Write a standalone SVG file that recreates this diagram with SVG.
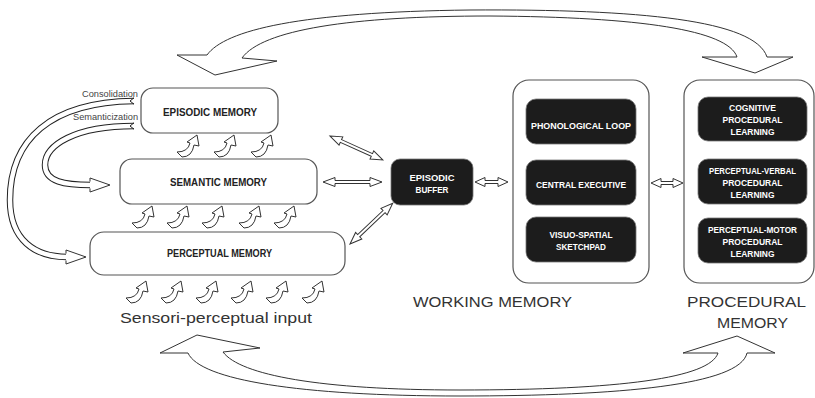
<svg xmlns="http://www.w3.org/2000/svg" width="815" height="398" viewBox="0 0 815 398">
<style>
.box{fill:#fff;stroke:#555;stroke-width:1.2}
.dark{fill:#1c1c1c;stroke:#777;stroke-width:0.8}
.lbl{font-family:"Liberation Sans",Arial,sans-serif;font-weight:bold;font-size:10.3px;text-anchor:middle;fill:#222}
.wl{font-family:"Liberation Sans",Arial,sans-serif;font-weight:bold;font-size:9.6px;text-anchor:middle;fill:#fff}
.wl2{font-size:8.8px}
.big{font-family:"Liberation Sans",Arial,sans-serif;font-size:15px;fill:#333}
.sm{font-family:"Liberation Sans",Arial,sans-serif;font-size:9.5px;fill:#444;text-anchor:end}
.arr{fill:#fff;stroke:#333;stroke-width:1;stroke-linejoin:miter}
.sh1{fill:none;stroke:#222;stroke-width:6.5}
.sh2{fill:none;stroke:#fff;stroke-width:4.5}
.notch{fill:none;stroke:#222;stroke-width:1}
</style>
<defs>
<path id="up" class="arr" d="M0,-5 L5,0 Q15,0 17,-12 L22,-11 L20,-22 L10,-15 L13,-14 Q11,-5 0,-5 Z"/>
</defs>

<g id="connectors">
<path id="top-arc" class="arr" d="M207,55 C225,30 300,12 470,10 C640,9 755,20 767,57 L793,57 L755,73 L702,57 L737,57 C728,30 640,17 490,16 C350,16 262,30 242,58 L277,61 L215,75 L177,55 Z"/>
<path id="bottom-arc" class="arr" d="M188,353 L160,353 L197,335 L260,348 L223,352 C240,375 320,390 460,390 C620,390 710,378 718,353 L683,353 L737,336 L775,353 L747,353 C740,385 620,396 460,396 C300,396 200,380 188,353 Z"/>

<g id="consolidation">
<path class="sh1" d="M134,101 C50,102 10,140 10,200 C10,240 35,257 67,257"/>
<path class="sh2" d="M134,101 C50,102 10,140 10,200 C10,240 35,257 67,257"/>
<path class="arr" d="M66,253.5 L66,250 L86,257 L66,264 L66,260.5"/>
<path class="notch" d="M134,97.8 L130,101 L134,104.2"/>
</g>
<g id="semanticization">
<path class="sh1" d="M134,126 C75,126 45,145 45,165 C45,182 65,185 91,185"/>
<path class="sh2" d="M134,126 C75,126 45,145 45,165 C45,182 65,185 91,185"/>
<path class="arr" d="M90,181.5 L90,178 L110,185 L90,192 L90,188.5"/>
<path class="notch" d="M134,122.8 L130,126 L134,129.2"/>
</g>

<path class="arr" transform="translate(330,136) rotate(24.4)" d="M0,0 L12,-4.5 L12,-1.5 L46,-1.5 L46,-4.5 L58,0 L46,4.5 L46,1.5 L12,1.5 L12,4.5 Z"/>
<path class="arr" transform="translate(323,182)" d="M0,0 L12,-4.5 L12,-1.5 L47,-1.5 L47,-4.5 L59,0 L47,4.5 L47,1.5 L12,1.5 L12,4.5 Z"/>
<path class="arr" transform="translate(350,244) rotate(-43.6)" d="M0,0 L12,-4.5 L12,-1.5 L47,-1.5 L47,-4.5 L59,0 L47,4.5 L47,1.5 L12,1.5 L12,4.5 Z"/>
<path class="arr" transform="translate(475,182)" d="M0,0 L10,-4.5 L10,-1.5 L23,-1.5 L23,-4.5 L33,0 L23,4.5 L23,1.5 L10,1.5 L10,4.5 Z"/>
<path class="arr" transform="translate(651,183)" d="M0,0 L10,-4.5 L10,-1.5 L22,-1.5 L22,-4.5 L32,0 L22,4.5 L22,1.5 L10,1.5 L10,4.5 Z"/>

<g id="input-arrows">
<use href="#up" x="177" y="157"/><use href="#up" x="214" y="157"/><use href="#up" x="251" y="157"/>
<use href="#up" x="132" y="228"/><use href="#up" x="167" y="228"/><use href="#up" x="202" y="228"/><use href="#up" x="239" y="228"/><use href="#up" x="274" y="228"/>
<use href="#up" x="126" y="303"/><use href="#up" x="161" y="303"/><use href="#up" x="196" y="303"/><use href="#up" x="231" y="303"/><use href="#up" x="266" y="303"/><use href="#up" x="302" y="303"/>
</g>
</g>

<text class="sm" x="138" y="97" textLength="56" lengthAdjust="spacingAndGlyphs">Consolidation</text>
<text class="sm" x="138" y="120" textLength="65" lengthAdjust="spacingAndGlyphs">Semanticization</text>

<g id="episodic-memory">
<rect class="box" x="141" y="88" width="137" height="45" rx="12"/>
<text class="lbl" x="210" y="115.5" textLength="94" lengthAdjust="spacingAndGlyphs">EPISODIC MEMORY</text>
</g>
<g id="semantic-memory">
<rect class="box" x="120" y="159" width="197" height="45" rx="12"/>
<text class="lbl" x="218.5" y="185.5" textLength="97" lengthAdjust="spacingAndGlyphs">SEMANTIC MEMORY</text>
</g>
<g id="perceptual-memory">
<rect class="box" x="90" y="232" width="255" height="43" rx="14"/>
<text class="lbl" x="219.5" y="256.5" textLength="105" lengthAdjust="spacingAndGlyphs">PERCEPTUAL MEMORY</text>
</g>
<text class="big" x="120" y="323" textLength="192" lengthAdjust="spacingAndGlyphs">Sensori-perceptual input</text>

<g id="episodic-buffer">
<rect class="dark" x="391" y="159" width="82" height="46" rx="9"/>
<text class="wl" x="432" y="181" textLength="45" lengthAdjust="spacingAndGlyphs">EPISODIC</text>
<text class="wl" x="432" y="193" textLength="33" lengthAdjust="spacingAndGlyphs">BUFFER</text>
</g>

<g id="working-memory">
<rect class="box" x="513" y="80" width="136" height="203" rx="16"/>
<g id="phonological-loop">
<rect class="dark" x="526" y="99" width="110" height="45" rx="10"/>
<text class="wl" x="581" y="128.5" textLength="100" lengthAdjust="spacingAndGlyphs">PHONOLOGICAL LOOP</text>
</g>
<g id="central-executive">
<rect class="dark" x="526" y="160" width="110" height="45" rx="10"/>
<text class="wl" x="581" y="187.5" textLength="90" lengthAdjust="spacingAndGlyphs">CENTRAL EXECUTIVE</text>
</g>
<g id="visuo-spatial">
<rect class="dark" x="526" y="217" width="110" height="45" rx="10"/>
<text class="wl" x="581" y="237.5" textLength="63" lengthAdjust="spacingAndGlyphs">VISUO-SPATIAL</text>
<text class="wl" x="581" y="249.5" textLength="50" lengthAdjust="spacingAndGlyphs">SKETCHPAD</text>
</g>
<text class="big" x="413" y="307" textLength="159" lengthAdjust="spacingAndGlyphs">WORKING MEMORY</text>
</g>

<g id="procedural-memory">
<rect class="box" x="684" y="80" width="130" height="203" rx="16"/>
<g id="cognitive">
<rect class="dark" x="698" y="97" width="109" height="44" rx="10"/>
<text class="wl" x="752.5" y="110.5" textLength="47" lengthAdjust="spacingAndGlyphs">COGNITIVE</text>
<text class="wl" x="752.5" y="122.5" textLength="60" lengthAdjust="spacingAndGlyphs">PROCEDURAL</text>
<text class="wl" x="752.5" y="135" textLength="44" lengthAdjust="spacingAndGlyphs">LEARNING</text>
</g>
<g id="perceptual-verbal">
<rect class="dark" x="698" y="159" width="109" height="45" rx="10"/>
<text class="wl wl2" x="752.5" y="173.5" textLength="87" lengthAdjust="spacingAndGlyphs">PERCEPTUAL-VERBAL</text>
<text class="wl" x="752.5" y="185.5" textLength="60" lengthAdjust="spacingAndGlyphs">PROCEDURAL</text>
<text class="wl" x="752.5" y="198" textLength="44" lengthAdjust="spacingAndGlyphs">LEARNING</text>
</g>
<g id="perceptual-motor">
<rect class="dark" x="698" y="218" width="109" height="45" rx="10"/>
<text class="wl wl2" x="752.5" y="232.5" textLength="89" lengthAdjust="spacingAndGlyphs">PERCEPTUAL-MOTOR</text>
<text class="wl" x="752.5" y="244.5" textLength="60" lengthAdjust="spacingAndGlyphs">PROCEDURAL</text>
<text class="wl" x="752.5" y="257" textLength="44" lengthAdjust="spacingAndGlyphs">LEARNING</text>
</g>
<text class="big" x="687" y="307" textLength="119" lengthAdjust="spacingAndGlyphs">PROCEDURAL</text>
<text class="big" x="717" y="328" textLength="71" lengthAdjust="spacingAndGlyphs">MEMORY</text>
</g>
</svg>
